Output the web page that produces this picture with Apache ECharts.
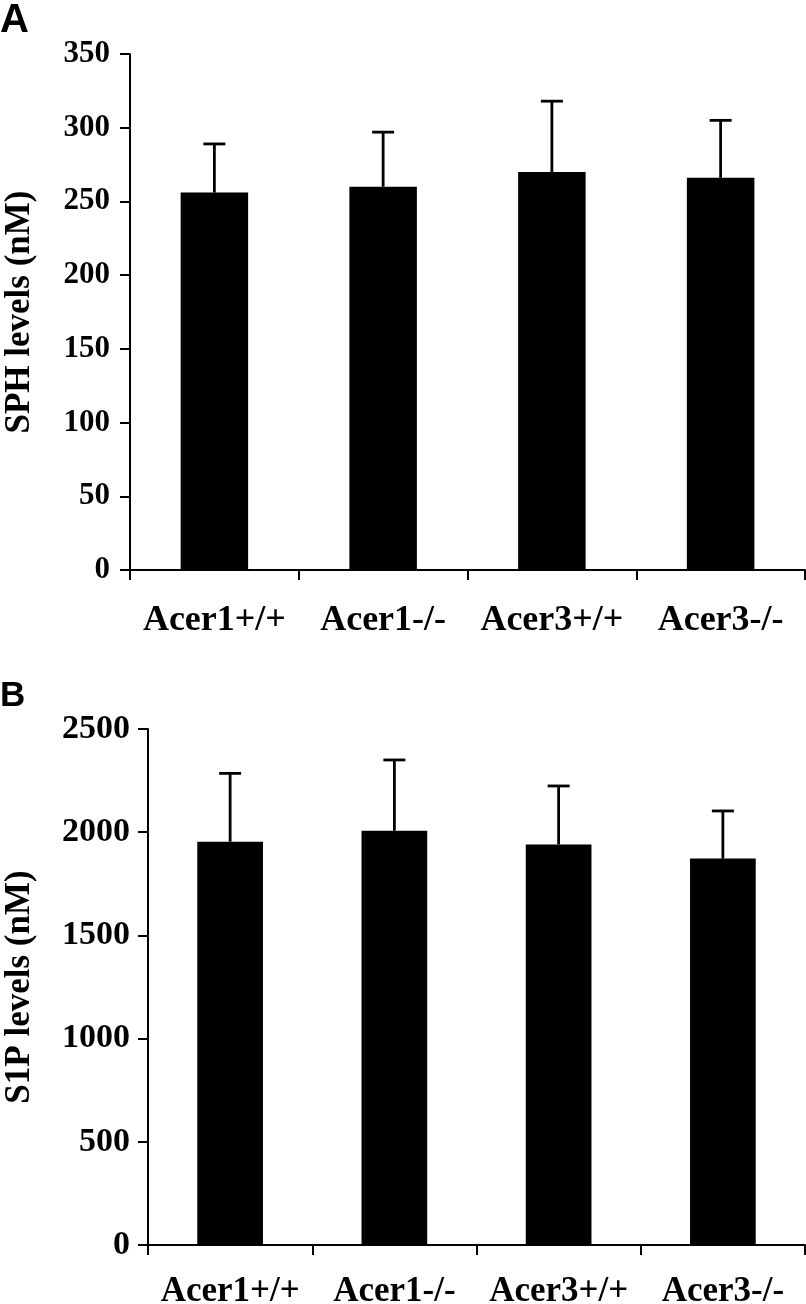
<!DOCTYPE html>
<html>
<head>
<meta charset="utf-8">
<script src="https://cdn.jsdelivr.net/npm/echarts@6/dist/echarts.min.js"></script>
<style>
html,body{margin:0;padding:0;background:#fff;}
#chart{width:806px;height:1304px;}
</style>
</head>
<body>
<div id="chart"></div>
<script>
const categories = ['Acer1+/+', 'Acer1-/-', 'Acer3+/+', 'Acer3-/-'];
const sphMean = [256, 260, 270, 266];
const sphErr = [33, 37, 48, 39];
const s1pMean = [1954, 2007, 1941, 1872];
const s1pErr = [331, 343, 283, 231];
const sphTicks = { min: 0, max: 350, interval: 50 };
const s1pTicks = { min: 0, max: 2500, interval: 500 };

const serif = 'Liberation Serif, Times New Roman, serif';

function errItem(params, api) {
  const x = api.value(0), top = api.value(1), mean = api.value(2);
  const p1 = api.coord([x, mean]);
  const p2 = api.coord([x, top]);
  const hw = 11;
  const st = { stroke: '#000', lineWidth: 2.8 };
  return {
    type: 'group',
    children: [
      { type: 'line', shape: { x1: p1[0], y1: p1[1], x2: p2[0], y2: p2[1] }, style: st },
      { type: 'line', shape: { x1: p2[0] - hw, y1: p2[1], x2: p2[0] + hw, y2: p2[1] }, style: st }
    ]
  };
}

function xAxisCfg(gridIndex, fontSize, margin) {
  return {
    type: 'category', gridIndex, data: categories, boundaryGap: true,
    axisLine: { lineStyle: { color: '#000', width: 2 } },
    axisTick: { show: true, length: 10, interval: 0, lineStyle: { color: '#000', width: 2 } },
    axisLabel: { color: '#000', fontFamily: serif, fontWeight: 'bold', fontSize, margin, interval: 0 },
    splitLine: { show: false }
  };
}
function yAxisCfg(gridIndex, ticks, name, fontSize, margin, nameGap) {
  return {
    type: 'value', gridIndex, min: ticks.min, max: ticks.max, interval: ticks.interval,
    name, nameLocation: 'middle', nameGap, nameRotate: 90,
    nameTextStyle: { color: '#000', fontFamily: serif, fontWeight: 'bold', fontSize: 35 },
    axisLine: { show: true, lineStyle: { color: '#000', width: 2 } },
    axisTick: { show: true, length: 10, lineStyle: { color: '#000', width: 2 } },
    axisLabel: { color: '#000', fontFamily: serif, fontWeight: 'bold', fontSize, margin,
      formatter: v => String(v) },
    splitLine: { show: false }
  };
}

const chart = echarts.init(document.getElementById('chart'), null, { renderer: 'canvas' });
chart.setOption({
  animation: false,
  backgroundColor: '#fff',
  graphic: [
    { type: 'text', left: 0, top: 1, style: { text: 'A', font: 'bold 40px Liberation Sans, Arial, sans-serif', fill: '#000' } },
    { type: 'text', left: 0, top: 679, style: { text: 'B', font: 'bold 35px Liberation Sans, Arial, sans-serif', fill: '#000' } }
  ],
  grid: [
    { left: 130, right: 1, top: 54, height: 516, outerBoundsMode: 'none', containLabel: false },
    { left: 148, right: 1, top: 729, height: 516, outerBoundsMode: 'none', containLabel: false }
  ],
  xAxis: [xAxisCfg(0, 36, 33), xAxisCfg(1, 35, 29)],
  yAxis: [
    yAxisCfg(0, sphTicks, 'SPH levels (nM)', 31, 20, 93),
    yAxisCfg(1, s1pTicks, 'S1P levels (nM)', 34, 18, 111)
  ],
  series: [
    { type: 'bar', xAxisIndex: 0, yAxisIndex: 0, data: sphMean, barWidth: '40%', itemStyle: { color: '#000' } },
    { type: 'custom', xAxisIndex: 0, yAxisIndex: 0, renderItem: errItem, encode: { x: 0, y: 1 },
      data: categories.map((c, i) => [i, sphMean[i] + sphErr[i], sphMean[i]]), z: 3 },
    { type: 'bar', xAxisIndex: 1, yAxisIndex: 1, data: s1pMean, barWidth: '40%', itemStyle: { color: '#000' } },
    { type: 'custom', xAxisIndex: 1, yAxisIndex: 1, renderItem: errItem, encode: { x: 0, y: 1 },
      data: categories.map((c, i) => [i, s1pMean[i] + s1pErr[i], s1pMean[i]]), z: 3 }
  ]
});
</script>
</body>
</html>
